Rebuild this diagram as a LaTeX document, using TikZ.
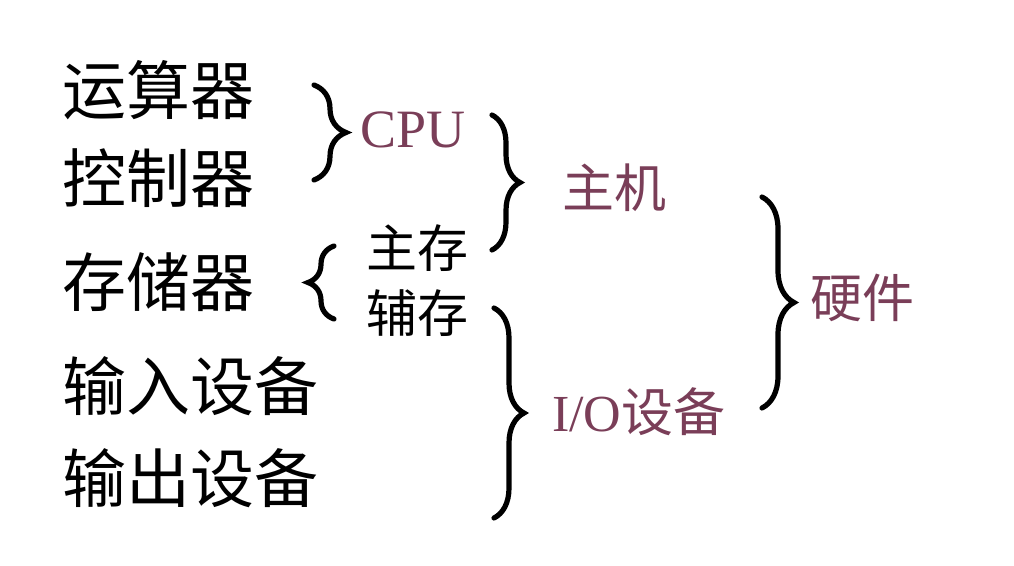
\documentclass[tikz,border=0pt]{standalone}
\usepackage{fontspec}
\setmainfont{Liberation Serif}
\newfontfamily\cjk{Noto Sans CJK SC}
\usetikzlibrary{decorations.pathreplacing}
\definecolor{plum}{HTML}{7A3E58}
\tikzset{
  item/.style={anchor=west, inner sep=0pt, font=\cjk\fontsize{64}{64}\selectfont},
  sub/.style={anchor=west, inner sep=0pt, font=\cjk\fontsize{51}{51}\selectfont},
  grp/.style={anchor=west, inner sep=0pt, text=plum, font=\cjk\fontsize{52}{52}\selectfont},
  br/.style={decorate, line width=5.2pt, line cap=round, decoration={brace, amplitude=#1}},
}
\begin{document}
\begin{tikzpicture}[x=1pt,y=-1pt]
\useasboundingbox (0,0) rectangle (1014,565);
% left column
\node[item] (ys) at (62,90) {运算器};
\node[item] (kz) at (62,178) {控制器};
\node[item] (cc) at (62,282) {存储器};
\node[item] (sr) at (62,386) {输入设备};
\node[item] (sc) at (62,478) {输出设备};
% middle
\node[grp, font=\fontsize{54}{54}\selectfont] (cpu) at (360,130) {CPU};
\node[sub] (zc) at (366,248) {主存};
\node[sub] (fc) at (366,313) {辅存};
% right groups
\node[grp] (zj) at (562,188) {主机};
\node[grp] (io) at (552,412) {\fontspec{Liberation Serif}I/O\cjk 设备};
\node[grp] (yj) at (810,298) {硬件};
% brace end points
\coordinate (b1t) at (314,85);
\coordinate (b1b) at (314,180);
\coordinate (b2t) at (334,246);
\coordinate (b2b) at (334,319);
\coordinate (b3t) at (492,115);
\coordinate (b3b) at (492,250);
\coordinate (b4t) at (494,308);
\coordinate (b4b) at (494,518);
\coordinate (b5t) at (762,197);
\coordinate (b5b) at (762,408);
% braces
\draw[br=32pt] (b1t) -- (b1b);
\draw[br=26pt] (b2b) -- (b2t);
\draw[br=28pt] (b3t) -- (b3b);
\draw[br=30pt] (b4t) -- (b4b);
\draw[br=32pt] (b5t) -- (b5b);
\end{tikzpicture}
\end{document}
